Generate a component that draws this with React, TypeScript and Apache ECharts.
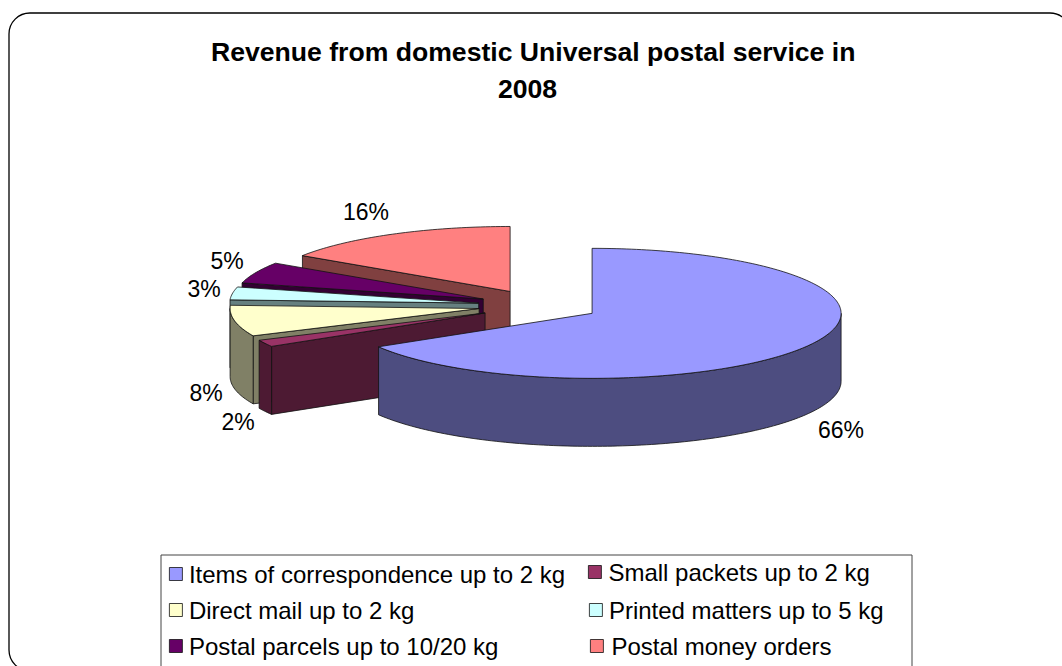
import React, { useEffect, useRef } from "react";
import * as echarts from "echarts";

const titleLines = ["Revenue from domestic Universal postal service in", "2008"];
const categories = [
  "Items of correspondence up to 2 kg",
  "Small packets up to 2 kg",
  "Direct mail up to 2 kg",
  "Printed matters up to 5 kg",
  "Postal parcels up to 10/20 kg",
  "Postal money orders",
];
const shares = [66.4, 1.7, 7.7, 3.2, 5.3, 15.7];
const topColors = ["#9999FF", "#993366", "#FFFFCC", "#CCFFFF", "#660066", "#FF8080"];
const wallColors = ["#4D4D80", "#4D1A33", "#808066", "#668080", "#330033", "#804040"];

// Pie projection, in pixels
const CX = 539;
const CY = 305.5;
const RX = 249;
const RY = 65;
const DEPTH = 68;
const EXPLODE = 61;
const FONT = "Liberation Sans, Arial, sans-serif";

const labelSpots: [number, number][] = [
  [841, 430],
  [238, 422],
  [206, 393],
  [204, 289],
  [227, 261],
  [366, 212],
];
// Swatch left edge and top of each legend entry
const legendSpots: [number, number][] = [
  [169, 562],
  [588, 560],
  [169, 598],
  [589, 598],
  [169, 634],
  [590, 634],
];
const legendTextGap = [6.5, 7, 6.5, 6.5, 6.5, 8];
const legendTextDrop = [2, 0, 2, 2, 2, 2];

const total = shares.reduce((a, b) => a + b, 0);

function sliceStart(index: number) {
  const before = shares.slice(0, index).reduce((a, b) => a + b, 0);
  return (before / total) * Math.PI * 2;
}

function renderSlice(index: number, value: number) {
  const from = sliceStart(index);
  const to = from + (value / total) * Math.PI * 2;
  const mid = (from + to) / 2;
  const ox = CX + EXPLODE * Math.sin(mid);
  const oy = CY - EXPLODE * (RY / RX) * Math.cos(mid);
  const rim = (a: number, drop = 0): number[] => [
    ox + RX * Math.sin(a),
    oy - RY * Math.cos(a) + drop,
  ];
  const sweep = (a: number, b: number, drop = 0) => {
    const steps = Math.max(2, Math.ceil(Math.abs(b - a) / 0.02));
    return Array.from({ length: steps + 1 }, (_, k) => rim(a + ((b - a) * k) / steps, drop));
  };
  const base = (6 - index) * 10;
  const line = { stroke: "#111", lineWidth: 0.8, lineJoin: "round" };
  const children: any[] = [];

  // Radial wall on the leading edge, for slices on the left half
  if (from >= Math.PI) {
    children.push({
      type: "polygon",
      z2: base,
      shape: { points: [[ox, oy], rim(from), rim(from, DEPTH), [ox, oy + DEPTH]] },
      style: { fill: wallColors[index], ...line },
    });
  }
  // Outer wall along the part of the rim facing the viewer
  const wallFrom = Math.max(from, Math.PI / 2);
  const wallTo = Math.min(to, (Math.PI * 3) / 2);
  if (wallTo > wallFrom) {
    children.push({
      type: "polygon",
      z2: base + 1,
      shape: { points: [...sweep(wallFrom, wallTo), ...sweep(wallTo, wallFrom, DEPTH)] },
      style: { fill: wallColors[index], ...line },
    });
  }
  // Top face
  children.push({
    type: "polygon",
    z2: base + 2,
    shape: { points: [[ox, oy], ...sweep(from, to)] },
    style: { fill: topColors[index], ...line },
  });
  children.push({
    type: "text",
    z2: 100,
    style: {
      text: `${Math.round(value)}%`,
      x: labelSpots[index][0],
      y: labelSpots[index][1],
      align: "center",
      verticalAlign: "middle",
      font: `23px ${FONT}`,
      fill: "#000",
    },
  });
  return { type: "group", children };
}

export default function App() {
  const ref = useRef<HTMLDivElement>(null);
  useEffect(() => {
    const chart = echarts.init(ref.current!, null, { renderer: "svg" });
    const titleStyle = { fontFamily: FONT, fontSize: 26.6, fontWeight: "bold", color: "#000" };
    chart.setOption({
      animation: false,
      backgroundColor: "#fff",
      title: [
        { text: titleLines[0], left: 211, top: 38, padding: 0, textStyle: titleStyle },
        { text: titleLines[1], left: 498, top: 75, padding: 0, textStyle: titleStyle },
      ],
      legend: categories.map((name, i) => ({
        data: [name],
        left: legendSpots[i][0],
        top: legendSpots[i][1],
        padding: 0,
        itemWidth: 13,
        itemHeight: 13,
        itemGap: 0,
        selectedMode: false,
        icon: "rect",
        itemStyle: { borderColor: "#111", borderWidth: 0.8 },
        textStyle: {
          fontFamily: FONT,
          fontSize: 24,
          color: "#000",
          padding: [legendTextDrop[i], 0, 0, legendTextGap[i] - 5],
        },
      })),
      graphic: [
        {
          type: "rect",
          z: 0,
          shape: { x: 9, y: 13, width: 1062, height: 658, r: 21 },
          style: { fill: "#fff", stroke: "#000", lineWidth: 1.3 },
        },
        {
          type: "rect",
          z: 0,
          shape: { x: 161, y: 555, width: 751, height: 120 },
          style: { fill: "#fff", stroke: "#444", lineWidth: 1 },
        },
      ],
      series: categories.map((name, i) => ({
        type: "custom",
        name,
        coordinateSystem: "none",
        silent: true,
        z: 2,
        itemStyle: { color: topColors[i] },
        data: [shares[i]],
        renderItem: (_p: any, api: any) => renderSlice(i, api.value(0)),
      })),
    });
    return () => chart.dispose();
  }, []);
  return <div ref={ref} style={{ position: "absolute", left: 0, top: 0, width: 1062, height: 666 }} />;
}
